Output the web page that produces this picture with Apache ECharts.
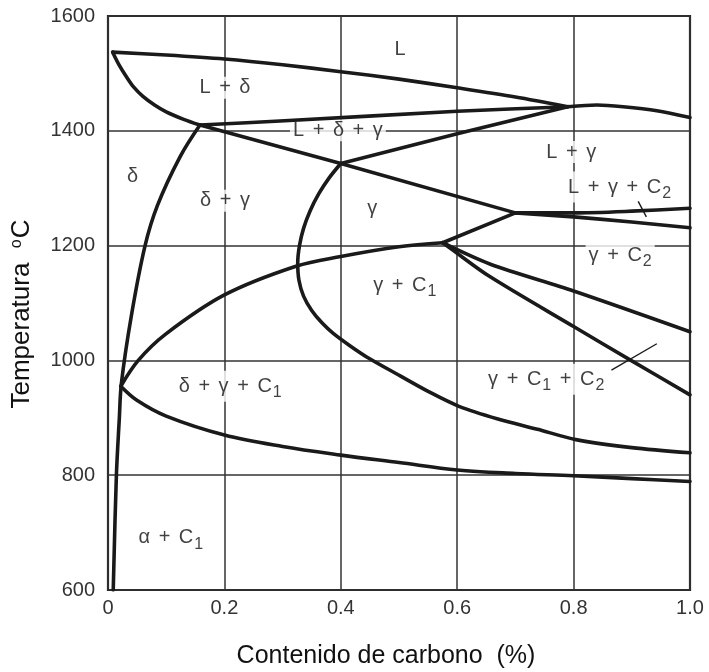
<!DOCTYPE html>
<html>
<head>
<meta charset="utf-8">
<script src="https://cdn.jsdelivr.net/npm/echarts@6/dist/echarts.min.js"></script>
<style>
html,body{margin:0;padding:0;background:#fff;}
#chart{width:709px;height:672px;}
</style>
</head>
<body>
<div id="chart"></div>
<script>
// ---- data (x = carbon %, y = temperature °C) ----
var xTicks = [0, 0.2, 0.4, 0.6, 0.8, 1.0];
var yTicks = [600, 800, 1000, 1200, 1400, 1600];

var liquidusLeft = [[0.008,1537],[0.1,1532],[0.2,1525],[0.3,1515],[0.4,1503],[0.5,1490],[0.6,1475],[0.7,1459],[0.79,1442]];
var liquidusRight = [[0.79,1442],[0.84,1445],[0.885,1442],[0.943,1435],[1.0,1423]];
var deltaSolidus = [[0.008,1537],[0.02,1513],[0.033,1492],[0.0435,1477],[0.06,1460],[0.08,1445],[0.1,1433],[0.13,1420],[0.158,1410]];
var peritecticTop = [[0.158,1410],[0.2955,1417],[0.6,1434],[0.79,1442]];
var threePhaseLow = [[0.4,1343],[0.6,1395],[0.79,1442]];
var descending = [[0.158,1410],[0.4,1343],[0.7,1257]];
var deltaBoundary = [[0.158,1410],[0.124,1355],[0.085,1270],[0.0635,1199],[0.04,1077],[0.023,960],[0.0195,900],[0.0144,799],[0.009,600]];
var c1Upper = [[0.022,955],[0.052,1000],[0.098,1045],[0.2,1114],[0.323,1164],[0.4,1181],[0.5,1198],[0.575,1205]];
var c1Lower = [[0.022,955],[0.049,931],[0.1,903],[0.2,870],[0.3,850],[0.4,835],[0.5,822],[0.6,809],[0.7,803],[0.8,799],[0.9,794],[1.0,789]];
var gammaBoundary = [[0.4,1343],[0.38,1318],[0.362,1290],[0.347,1260],[0.336,1230],[0.329,1200],[0.326,1170],[0.328,1140],[0.336,1112],[0.35,1087],[0.368,1065],[0.387,1047],[0.415,1026],[0.4445,1006],[0.502,973],[0.55,946],[0.603,920],[0.67,898],[0.738,880],[0.804,862],[0.9,848],[1.0,839]];
var junctionRise = [[0.575,1205],[0.7,1257]];
var lgUpper = [[0.7,1257],[0.8,1257],[0.9,1260],[1.0,1265]];
var lgLower = [[0.7,1257],[0.8,1250],[0.9,1241],[1.0,1231]];
var c2Upper = [[0.575,1205],[0.656,1168],[0.8,1121],[1.0,1050]];
var c2Lower = [[0.575,1205],[0.59,1194],[0.656,1146],[0.8,1059],[0.897,1001],[1.0,940]];
var pointer1 = [[0.911,1277],[0.925,1250]];
var pointer2 = [[0.865,983],[0.943,1029]];

var labelTexts = ['L','L + δ','L + δ + γ','δ','δ + γ','γ','L + γ','L + γ + C_2','γ + C_2','γ + C_1','δ + γ + C_1','γ + C_1 + C_2','α + C_1'];
var labelX = [0.502,0.201,0.395,0.042,0.201,0.454,0.796,0.879,0.880,0.510,0.21,0.753,0.108];
var labelY = [1541,1475,1401,1320,1278,1264,1363,1302,1183,1131,955,967,691];

// ---- build ----
var curveDefs = [
  [liquidusLeft, 0.3], [liquidusRight, 0.3], [deltaSolidus, 0.3], [peritecticTop, 0.2], [threePhaseLow, false],
  [descending, false], [deltaBoundary, 0.35], [c1Upper, 0.35], [c1Lower, 0.35],
  [gammaBoundary, 0.3], [junctionRise, false], [lgUpper, 0.3], [lgLower, 0.3],
  [c2Upper, 0.3], [c2Lower, 0.3]
];
var series = curveDefs.map(function (d) {
  return {
    type: 'line', data: d[0], smooth: d[1], symbol: 'none', z: 5, silent: true,
    lineStyle: { color: '#1a1a1a', width: 3.6, cap: 'round', join: 'round' }
  };
});
[pointer1, pointer2].forEach(function (p) {
  series.push({ type: 'line', data: p, symbol: 'none', z: 5, silent: true,
    lineStyle: { color: '#1a1a1a', width: 1.4 } });
});

function richText(t) {
  return t.replace(/\+/g, '{p|+}').replace(/_(\d)/g, '{s|$1}');
}
series.push({
  type: 'scatter', z: 3, silent: true, symbolSize: 0,
  data: labelTexts.map(function (t, i) { return { value: [labelX[i], labelY[i]], name: t }; }),
  label: {
    show: true, position: 'inside',
    formatter: function (p) { return richText(p.name); },
    fontFamily: 'Liberation Sans', fontSize: 20, color: '#111',
    backgroundColor: '#fff', padding: [1, 3],
    rich: {
      p: { fontFamily: 'Liberation Sans', fontSize: 20, color: '#111', padding: [0, 3] },
      s: { fontFamily: 'Liberation Sans', fontSize: 16, color: '#111', padding: [13, 0, 0, 1] }
    }
  }
});

var chart = echarts.init(document.getElementById('chart'), null, { renderer: 'canvas' });
chart.setOption({
  animation: false,
  backgroundColor: '#fff',
  grid: { left: 108, right: 19, top: 16, bottom: 82, show: true, borderColor: '#222', borderWidth: 2.2, backgroundColor: 'transparent' },
  xAxis: {
    type: 'value', min: xTicks[0], max: xTicks[xTicks.length - 1], interval: 0.2,
    axisLine: { show: false }, axisTick: { show: false },
    splitLine: { show: true, lineStyle: { color: '#333', width: 1.5 } },
    axisLabel: { fontFamily: 'Liberation Sans', fontSize: 20, color: '#333', margin: 8,
      formatter: function (v) { return v === 0 ? '0' : v.toFixed(1); } }
  },
  yAxis: {
    type: 'value', min: yTicks[0], max: yTicks[yTicks.length - 1], interval: 200,
    axisLine: { show: false }, axisTick: { show: false },
    splitLine: { show: true, lineStyle: { color: '#333', width: 1.5 } },
    axisLabel: { fontFamily: 'Liberation Sans', fontSize: 20, color: '#333', margin: 13,
      formatter: function (v) { return String(v); } }
  },
  graphic: [
    { type: 'text', x: 22, y: 314, rotation: Math.PI / 2, silent: true,
      style: { text: '{a|Temperatura  }{o|o}{a|C}', align: 'center', verticalAlign: 'middle',
        rich: { a: { fontFamily: 'Liberation Sans', fontSize: 26, fill: '#111' },
                o: { fontFamily: 'Liberation Sans', fontSize: 16, fill: '#111', padding: [0, 1, 11, 0] } } } },
    { type: 'text', x: 386, y: 656, silent: true,
      style: { text: 'Contenido de carbono  (%)', fontFamily: 'Liberation Sans', fontSize: 25, fill: '#111',
        align: 'center', verticalAlign: 'middle' } }
  ],
  series: series
});
</script>
</body>
</html>
